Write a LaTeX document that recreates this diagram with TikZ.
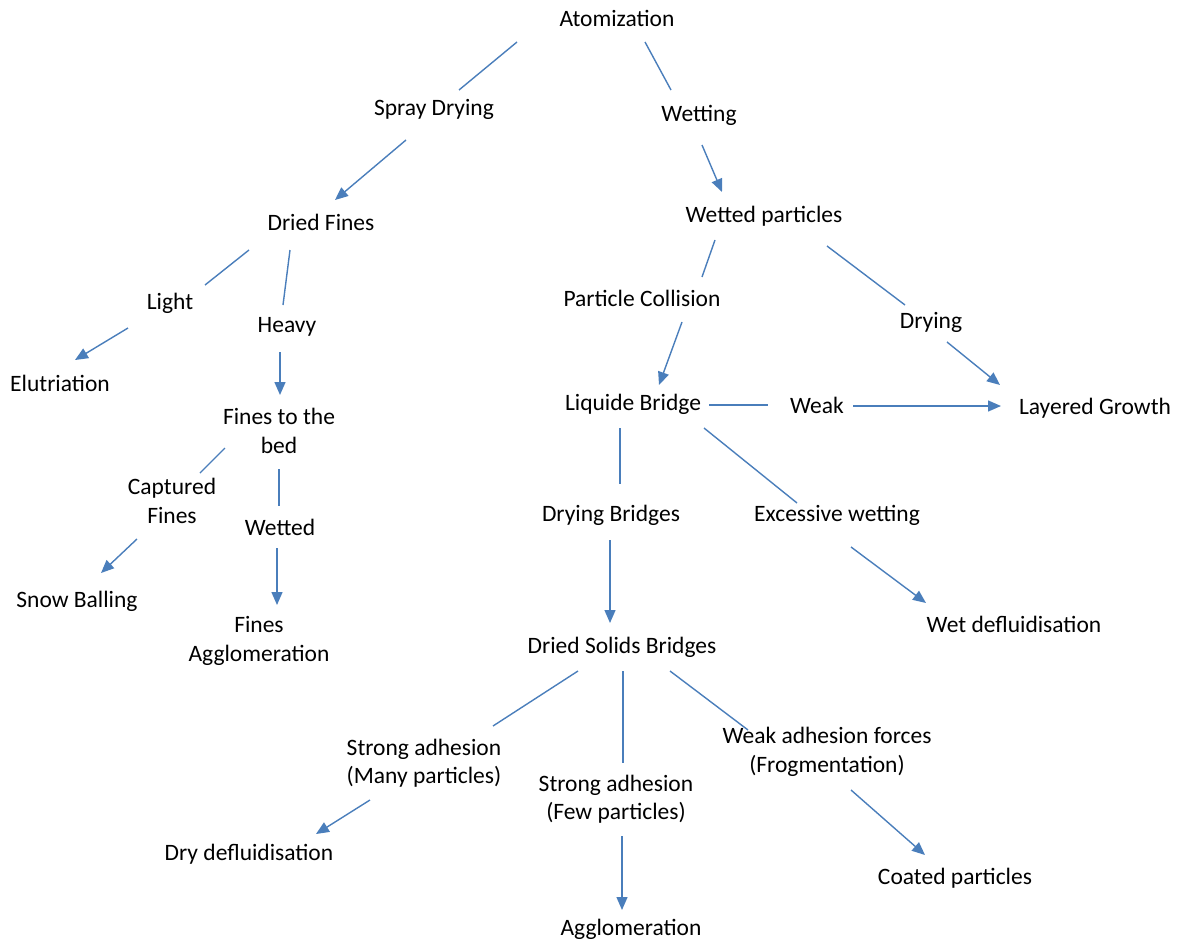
\documentclass[tikz,border=0pt]{standalone}
\usepackage{fontspec}
\setmainfont{Carlito}
\usetikzlibrary{arrows.meta,positioning}
\definecolor{linkblue}{RGB}{74,126,187}
\tikzset{
lbl/.style={
  align=center,
  inner sep=0pt,
  font=\fontsize{23.5}{28.5}\selectfont
  },
link/.style={draw=linkblue,line width=1.4pt},
flow/.style={link,-{Triangle[length=13pt,width=11pt]}}
}

\begin{document}
\begin{tikzpicture}[x=1pt,y=-1pt]
\useasboundingbox (0,0) rectangle (1183,942);

% left branch
\node[lbl] (atom) at (617,18) {Atomization};
\node[lbl] (spray) at (434,109) {Spray Drying};
\node[lbl] (dfines) at (321,222) {Dried Fines};
\node[lbl] (light) at (170,303) {Light};
\node[lbl] (heavy) at (287,327) {Heavy};
\node[lbl] (elut) at (60,383) {Elutriation};
\node[lbl] (ftbed) at (279,431) {Fines to the\\bed};
\node[lbl] (capt) at (172,501) {Captured\\Fines};
\node[lbl] (wetted) at (280,527) {Wetted};
\node[lbl] (snow) at (77,601) {Snow Balling};
\node[lbl] (fagg) at (259,641) {Fines\\Agglomeration};

% right branch
\node[lbl] (wetting) at (699,115) {Wetting};
\node[lbl] (wpart) at (764,216) {Wetted particles};
\node[lbl] (pcoll) at (642,298) {Particle Collision};
\node[lbl] (drying) at (931,322) {Drying};
\node[lbl] (lbridge) at (633,404) {Liquide Bridge};
\node[lbl] (weak) at (817,405) {Weak};
\node[lbl] (layer) at (1095,408) {Layered Growth};
\node[lbl] (dbridge) at (611,515) {Drying Bridges};
\node[lbl] (excess) at (837,515) {Excessive wetting};
\node[lbl] (wetdef) at (1014,624) {Wet defluidisation};
\node[lbl] (dsb) at (622,647) {Dried Solids Bridges};
\node[lbl] (sam) at (424,763) {Strong adhesion\\(Many particles)};
\node[lbl] (saf) at (616,799) {Strong adhesion\\(Few particles)};
\node[lbl] (wadh) at (827,752) {Weak adhesion forces\\(Frogmentation)};
\node[lbl] (drydef) at (249,854) {Dry defluidisation};
\node[lbl] (agg) at (631,929) {Agglomeration};
\node[lbl] (coated) at (955,878) {Coated particles};

% connectors
\draw[link] ([shift={(-100,24)}]atom.center) -- ([shift={(25,-19)}]spray.center);
\draw[link] ([shift={(28,24)}]atom.center) -- ([shift={(-28,-25)}]wetting.center);
\draw[flow] ([shift={(-28,31)}]spray.center) -- ([shift={(14,-22)}]dfines.center);
\draw[flow] ([shift={(3,30)}]wetting.center) -- ([shift={(-42,-24)}]wpart.center);
\draw[link] ([shift={(-72,28)}]dfines.center) -- ([shift={(35,-18)}]light.center);
\draw[link] ([shift={(-31,28)}]dfines.center) -- ([shift={(-4,-22)}]heavy.center);
\draw[flow] ([shift={(-42,25)}]light.center) -- ([shift={(15,-23)}]elut.center);
\draw[flow] ([shift={(-7,25)}]heavy.center) -- ([shift={(1,-36)}]ftbed.center);
\draw[link] ([shift={(-54,17)}]ftbed.center) -- ([shift={(28,-28)}]capt.center);
\draw[link] ([shift={(0,38)}]ftbed.center) -- ([shift={(-1,-21)}]wetted.center);
\draw[flow] ([shift={(-35,38)}]capt.center) -- ([shift={(24,-28)}]snow.center);
\draw[flow] ([shift={(-3,21)}]wetted.center) -- ([shift={(18,-36)}]fagg.center);
\draw[link] ([shift={(-49,24)}]wpart.center) -- ([shift={(60,-21)}]pcoll.center);
\draw[link] ([shift={(63,30)}]wpart.center) -- ([shift={(-26,-17)}]drying.center);
\draw[flow] ([shift={(40,24)}]pcoll.center) -- ([shift={(26,-19)}]lbridge.center);
\draw[flow] ([shift={(16,20)}]drying.center) -- ([shift={(-95,-23)}]layer.center);
\draw[link] ([shift={(76,1)}]lbridge.center) -- ([shift={(-49,0)}]weak.center);
\draw[flow] ([shift={(36,1)}]weak.center) -- ([shift={(-94,-2)}]layer.center);
\draw[link] ([shift={(-13,24)}]lbridge.center) -- ([shift={(9,-31)}]dbridge.center);
\draw[link] ([shift={(71,24)}]lbridge.center) -- ([shift={(-40,-12)}]excess.center);
\draw[flow] ([shift={(-1,25)}]dbridge.center) -- ([shift={(-12,-24)}]dsb.center);
\draw[flow] ([shift={(14,32)}]excess.center) -- ([shift={(-88,-21)}]wetdef.center);
\draw[link] ([shift={(-44,24)}]dsb.center) -- ([shift={(69,-37)}]sam.center);
\draw[link] ([shift={(1,24)}]dsb.center) -- ([shift={(7,-36)}]saf.center);
\draw[link] ([shift={(48,24)}]dsb.center) -- ([shift={(-79,-22)}]wadh.center);
\draw[flow] ([shift={(-54,37)}]sam.center) -- ([shift={(67,-20)}]drydef.center);
\draw[flow] ([shift={(6,37)}]saf.center) -- ([shift={(-9,-19)}]agg.center);
\draw[flow] ([shift={(24,38)}]wadh.center) -- ([shift={(-30,-23)}]coated.center);

\end{tikzpicture}
\end{document}
